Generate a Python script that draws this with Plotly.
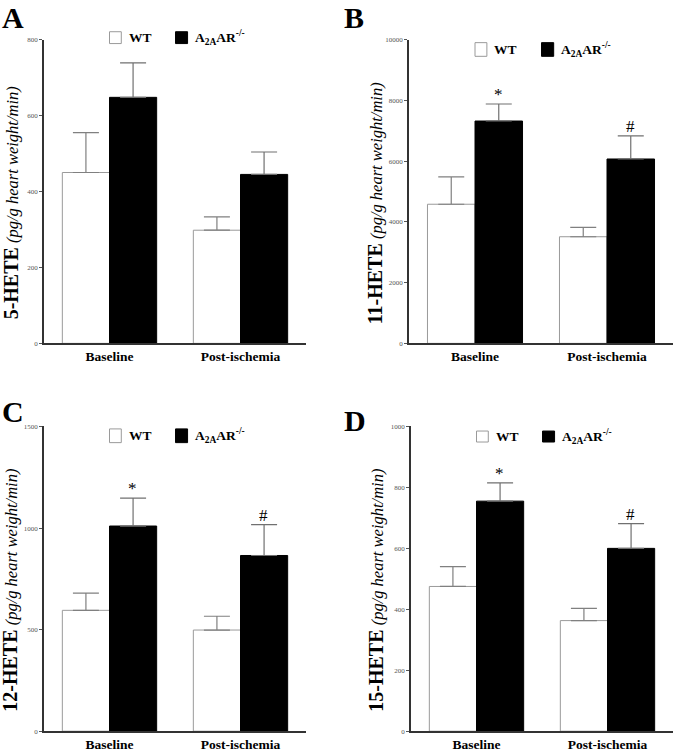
import plotly.graph_objects as go

categories = ["Baseline", "Post-ischemia"]
tick_labels = ["<b>Baseline</b>", "<b>Post-ischemia</b>"]

# Panel A: 5-HETE
a_wt = [450, 298]
a_wt_err = [105, 35]
a_ko = [648, 445]
a_ko_err = [91, 59]
# Panel B: 11-HETE
b_wt = [4580, 3510]
b_wt_err = [900, 310]
b_ko = [7320, 6070]
b_ko_err = [560, 760]
# Panel C: 12-HETE
c_wt = [595, 498]
c_wt_err = [85, 68]
c_ko = [1010, 865]
c_ko_err = [137, 152]
# Panel D: 15-HETE
d_wt = [475, 363]
d_wt_err = [65, 40]
d_ko = [755, 600]
d_ko_err = [60, 81]

panel_letters = ["A", "B", "C", "D"]
y_names = ["5-HETE", "11-HETE", "12-HETE", "15-HETE"]
y_ranges = [[0, 800], [0, 10000], [0, 1500], [0, 1000]]
y_dticks = [200, 2000, 500, 200]
# significance marks: (category index, mark)
sig_marks = [[], [(0, "*"), (1, "#")], [(0, "*"), (1, "#")], [(0, "*"), (1, "#")]]

W, H = 678, 755
SERIF = "Liberation Serif"

panels = [
    (a_wt, a_wt_err, a_ko, a_ko_err),
    (b_wt, b_wt_err, b_ko, b_ko_err),
    (c_wt, c_wt_err, c_ko, c_ko_err),
    (d_wt, d_wt_err, d_ko, d_ko_err),
]

# pixel geometry of plot areas: (x_left, x_right, y_top, y_bottom)
geom = [
    (44, 306, 36, 343),
    (409, 673, 36, 343),
    (44, 306, 427, 735),
    (411, 673, 427, 735),
]
letter_pos = [(0, -5), (342, -5), (0, 393), (342, 402)]
ytitle_x = [11, 375, 10, 376]
legend_y = [(0.987, 1.026), (0.945, 0.99), (0.947, 0.992), (0.949, 0.985)]

fig = go.Figure()
layout = dict(
    width=W, height=H,
    margin=dict(l=0, r=0, t=0, b=0),
    paper_bgcolor="white", plot_bgcolor="white",
    barmode="group", bargap=0.28, bargroupgap=0,
    showlegend=False,
    font=dict(family=SERIF, color="black"),
)
shapes = []
annotations = []

for i, (wt, wt_err, ko, ko_err) in enumerate(panels):
    n = "" if i == 0 else str(i + 1)
    xa, ya = "x" + n, "y" + n
    fig.add_trace(go.Bar(
        x=categories, y=wt, xaxis=xa, yaxis=ya, name="WT",
        marker=dict(color="white", line=dict(color="#9a9a9a", width=1)),
        error_y=dict(type="data", array=wt_err, arrayminus=[0, 0], symmetric=False,
                     color="#808080", thickness=1.2, width=13),
    ))
    fig.add_trace(go.Bar(
        x=categories, y=ko, xaxis=xa, yaxis=ya, name="A2AAR-/-",
        marker=dict(color="black", line=dict(color="black", width=1)),
        error_y=dict(type="data", array=ko_err, arrayminus=[0, 0], symmetric=False,
                     color="#707070", thickness=1.2, width=13),
    ))
    xl, xr, yt, yb = geom[i]
    layout["xaxis" + n] = dict(
        domain=[xl / W, xr / W], anchor=ya, range=[-0.5, 1.5],
        showline=True, linecolor="#333", linewidth=1.5, ticks="",
        tickmode="array", tickvals=categories, ticktext=tick_labels,
        tickfont=dict(family=SERIF, size=13.5, color="black"),
        showgrid=False, zeroline=False, fixedrange=True,
    )
    layout["yaxis" + n] = dict(
        domain=[1 - yb / H, 1 - yt / H], anchor=xa, range=y_ranges[i],
        dtick=y_dticks[i], tickformat="d", showline=True, linecolor="#333", linewidth=1.5,
        ticks="outside", ticklen=3, tickcolor="#555", tickwidth=1,
        tickfont=dict(family=SERIF, size=7, color="#555"),
        showgrid=False, zeroline=False,
    )
    # legend swatches
    y0, y1 = legend_y[i]
    xd, yd = xa + " domain", ya + " domain"
    shapes.append(dict(type="rect", xref=xd, yref=yd, x0=0.25, x1=0.295, y0=y0, y1=y1,
                       fillcolor="white", line=dict(color="#9a9a9a", width=1)))
    shapes.append(dict(type="rect", xref=xd, yref=yd, x0=0.502, x1=0.548, y0=y0, y1=y1,
                       fillcolor="black", line=dict(color="black", width=1)))
    ym = (y0 + y1) / 2
    annotations.append(dict(xref=xd, yref=yd, x=0.315, y=ym, text="<b>WT</b>",
                            showarrow=False, xanchor="left", yanchor="middle",
                            font=dict(family=SERIF, size=13.5)))
    annotations.append(dict(xref=xd, yref=yd, x=0.568, y=ym,
                            text="<b>A<sub>2A</sub>AR<sup>-/-</sup></b>",
                            showarrow=False, xanchor="left", yanchor="middle",
                            font=dict(family=SERIF, size=13.5)))
    # panel letter
    lx, ly = letter_pos[i]
    annotations.append(dict(xref="paper", yref="paper", x=lx / W, y=1 - ly / H,
                            text="<b>" + panel_letters[i] + "</b>", showarrow=False,
                            xanchor="left", yanchor="top",
                            font=dict(family=SERIF, size=30)))
    # y title
    annotations.append(dict(xref="paper", yref="paper", x=ytitle_x[i] / W,
                            y=1 - ((yt + yb) / 2 + 12) / H,
                            text="<span style='font-size:20px'><b>" + y_names[i] + "</b></span>"
                                 " <i>(pg/g heart weight/min)</i>",
                            textangle=-90, showarrow=False, xanchor="center", yanchor="middle",
                            font=dict(family=SERIF, size=16.5)))
    # significance marks
    for ci, mark in sig_marks[i]:
        annotations.append(dict(xref=xa, yref=ya, x=categories[ci], y=ko[ci] + ko_err[ci],
                                text=mark, showarrow=False, xanchor="center", yanchor="bottom",
                                xshift=23, yshift=-2,
                                font=dict(family=SERIF, size=17)))

layout["shapes"] = shapes
layout["annotations"] = annotations
fig.update_layout(**layout)
fig.write_html("out.html", config={"displayModeBar": False},
               post_script="document.body.style.margin='0';document.body.style.padding='0';")
